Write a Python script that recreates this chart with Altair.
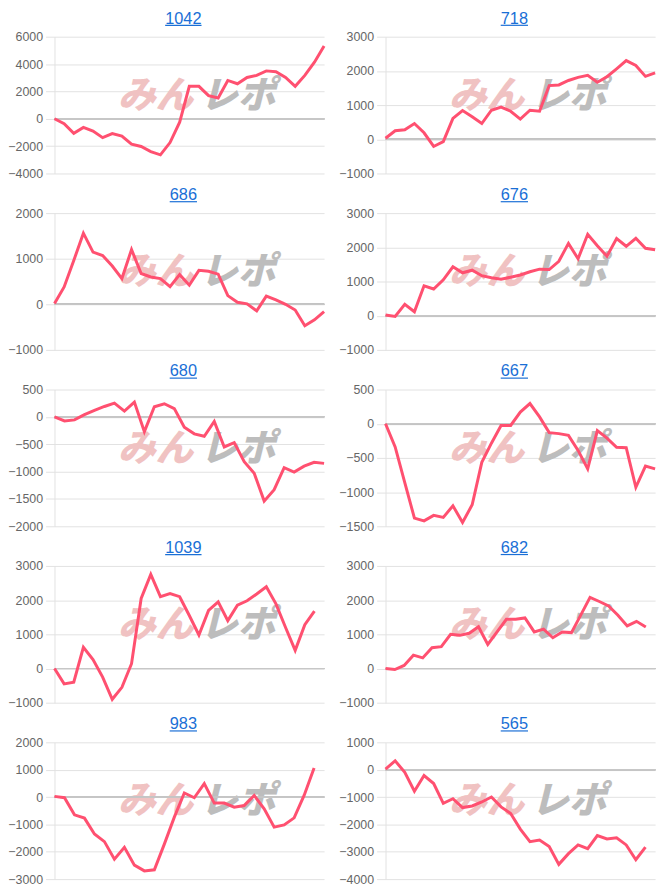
import altair as alt
import pandas as pd

# ---- data ----
titles = ["1042", "718", "686", "676", "680", "667", "1039", "682", "983", "565"]

s1042 = [0, -360, -1060, -630, -900, -1380, -1090, -1260, -1860, -2030, -2400, -2640, -1740, -250,
         2370, 2370, 1690, 1520, 2800, 2560, 3020, 3170, 3500, 3440, 3020, 2370, 3170, 4140, 5320]
s718 = [30, 250, 280, 460, 190, -210, -70, 610, 840, 660, 460, 850, 940, 820, 590, 850, 820,
        1570, 1590, 1720, 1810, 1870, 1670, 1830, 2060, 2300, 2160, 1840, 1940]
s686 = [20, 380, 960, 1560, 1145, 1070, 840, 565, 1200, 675, 600, 565, 385, 650, 420, 745, 725,
        660, 190, 45, 10, -145, 180, 95, 0, -125, -470, -340, -160]
s676 = [20, -20, 330, 115, 875, 780, 1050, 1430, 1255, 1330, 1170, 1110, 1065, 1125, 1190, 1285,
        1360, 1350, 1590, 2115, 1665, 2380, 2045, 1740, 2255, 2030, 2265, 1970, 1930]
s680 = [0, -75, -55, 40, 120, 190, 250, 105, 270, -270, 185, 240, 150, -190, -310, -355, -85,
        -550, -470, -820, -1030, -1540, -1330, -930, -1010, -900, -830, -850]
s667 = [0, -340, -860, -1380, -1420, -1340, -1370, -1200, -1445, -1185, -565, -285, -25, -25, 170,
        295, 100, -130, -145, -170, -390, -660, -100, -210, -345, -350, -930, -620, -660]
s1039 = [0, -450, -400, 620, 260, -250, -900, -550, 140, 2050, 2750, 2100, 2190, 2100, 1550, 980,
         1700, 1950, 1400, 1850, 1980, 2180, 2390, 1890, 1200, 530, 1280, 1680]
s682 = [0, -30, 90, 390, 310, 610, 640, 1000, 970, 1030, 1220, 705, 1070, 1440, 1440, 1480, 1070,
        1150, 900, 1070, 1050, 1560, 2080, 1960, 1830, 1560, 1245, 1380, 1215]
s983 = [25, -25, -650, -770, -1350, -1630, -2270, -1840, -2490, -2700, -2660, -1720, -735, 150,
        -25, 490, -220, -220, -370, -310, 60, -430, -1100, -1020, -760, 60, 1065]
s565 = [25, 325, -95, -785, -215, -505, -1230, -1060, -1385, -1325, -1180, -1000, -1360, -1600,
        -2170, -2630, -2570, -2810, -3460, -3070, -2750, -2890, -2410, -2530, -2490, -2750, -3290, -2830]

series = [s1042, s718, s686, s676, s680, s667, s1039, s682, s983, s565]
slots = [29, 29, 29, 29, 28, 29, 29, 30, 28, 29]          # number of x categories per panel
y_lo = [-4000, -1000, -1000, -1000, -2000, -1500, -1000, -1000, -3000, -4000]
y_hi = [6000, 3000, 2000, 3000, 500, 500, 3000, 3000, 2000, 1000]
y_step = [2000, 1000, 1000, 1000, 500, 500, 1000, 1000, 1000, 1000]
watermark = ["みん", "レポ"]

# ---- styling ----
W, H = 272, 138
LINE = "#ff5070"
LINK = "#1a6fd6"
GRID = "#e2e2e2"
FONT = "Liberation Sans"
TFS = 16.5
WFS = 38


def panel(title, vals, nslots, lo, hi, step):
    df = pd.DataFrame({"i": list(range(len(vals))), "v": vals})
    yscale = alt.Scale(domain=[lo, hi], nice=False, zero=False)
    yaxis = alt.Axis(values=list(range(lo, hi + 1, step)), title=None, format="d",
                     grid=True, labelOverlap=False)
    x = alt.X("i:Q", scale=alt.Scale(domain=[0, nslots - 1], nice=False, zero=False), axis=None)
    y = alt.Y("v:Q", scale=yscale, axis=yaxis)
    line = alt.Chart(df).mark_line(color=LINE, strokeWidth=3).encode(x=x, y=y)
    zero = alt.Chart(df).mark_rule(color="#c6c6c6", strokeWidth=1).encode(
        y=alt.Y(datum=0, scale=yscale, axis=yaxis))
    wm1 = alt.Chart(pd.DataFrame({"t": [watermark[0]]})).mark_text(
        font="Noto Sans CJK JP", fontSize=WFS, fontWeight=900, fontStyle="italic",
        color="#f0c2c2", align="center", baseline="middle").encode(
        text="t:N", x=alt.value(W * 0.375), y=alt.value(H * 0.44))
    wm2 = alt.Chart(pd.DataFrame({"t": [watermark[1]]})).mark_text(
        font="Noto Sans CJK JP", fontSize=WFS, fontWeight=900, fontStyle="italic",
        color="#bdbdbd", align="center", baseline="middle").encode(
        text="t:N", x=alt.value(W * 0.68), y=alt.value(H * 0.44))
    cx = W / 2 - 6
    tw = len(title) * 0.556 * TFS
    ttl = alt.Chart(pd.DataFrame({"t": [title]})).mark_text(
        font=FONT, fontSize=TFS, color=LINK, align="center", baseline="alphabetic").encode(
        text="t:N", x=alt.value(cx), y=alt.value(-13.3))
    ul = alt.Chart(pd.DataFrame({"t": [title]})).mark_rule(color=LINK, strokeWidth=1.2).encode(
        x=alt.value(cx - tw / 2), x2=alt.value(cx + tw / 2), y=alt.value(-11.5))
    return alt.layer(wm1, wm2, zero, line, ttl, ul).properties(width=W, height=H)


panels = [panel(t, s, n, lo, hi, st)
          for t, s, n, lo, hi, st in zip(titles, series, slots, y_lo, y_hi, y_step)]

chart = alt.concat(*panels, columns=2, spacing={"row": 40, "column": 62}, bounds="flush").properties(
    padding={"left": 7, "top": 6, "right": 5, "bottom": 5}
).configure_view(stroke=None).configure_axis(
    gridColor=GRID, tickColor=GRID, domainColor=GRID, tickSize=9, labelPadding=3,
    labelColor="#666666", labelFont=FONT, labelFontSize=12.5
)

chart.save("out.html", embed_options={"renderer": "svg", "actions": False})
